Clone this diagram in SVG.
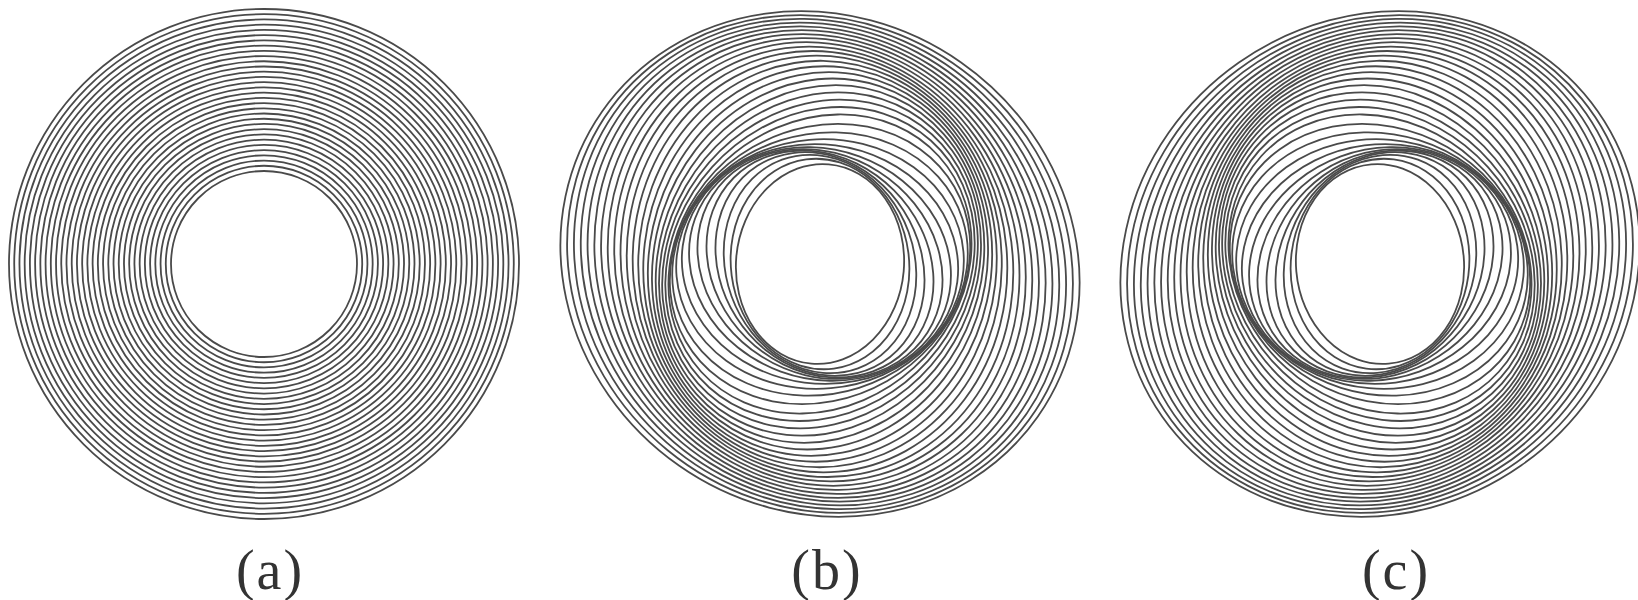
<svg xmlns="http://www.w3.org/2000/svg" xmlns:xlink="http://www.w3.org/1999/xlink" width="1638" height="600" viewBox="0 0 1638 600">
<style>
.ring{fill:none;stroke:#4a4a4a;stroke-width:1.8}
.lbl{font-family:"Liberation Serif","DejaVu Serif",serif;font-size:56px;fill:#333;text-anchor:middle;letter-spacing:2px}
</style>
<defs>
<g id="spiral">
<ellipse class="ring" rx="100" ry="84" transform="rotate(95)"/>
<ellipse class="ring" rx="105.49" ry="89.09" transform="rotate(82.5)"/>
<ellipse class="ring" rx="110.99" ry="94.17" transform="rotate(70)"/>
<ellipse class="ring" rx="116.48" ry="99.26" transform="rotate(57.5)"/>
<ellipse class="ring" rx="121.97" ry="104.35" transform="rotate(45)"/>
<ellipse class="ring" rx="127.47" ry="109.43" transform="rotate(32.5)"/>
<ellipse class="ring" rx="132.96" ry="114.52" transform="rotate(20)"/>
<ellipse class="ring" rx="138.45" ry="119.61" transform="rotate(7.5)"/>
<ellipse class="ring" rx="143.95" ry="124.69" transform="rotate(-5)"/>
<ellipse class="ring" rx="149.44" ry="129.78" transform="rotate(-17.5)"/>
<ellipse class="ring" rx="154.94" ry="134.86" transform="rotate(-29.9)"/>
<ellipse class="ring" rx="160.43" ry="139.95" transform="rotate(-42.2)"/>
<ellipse class="ring" rx="165.92" ry="145.04" transform="rotate(-48.1)"/>
<ellipse class="ring" rx="171.42" ry="150.12" transform="rotate(-53.9)"/>
<ellipse class="ring" rx="176.91" ry="155.21" transform="rotate(-59.8)"/>
<ellipse class="ring" rx="182.33" ry="160.37" transform="rotate(-65.7)"/>
<ellipse class="ring" rx="187.56" ry="165.72" transform="rotate(-71.5)"/>
<ellipse class="ring" rx="192.79" ry="171.07" transform="rotate(-77.4)"/>
<ellipse class="ring" rx="198.02" ry="176.42" transform="rotate(-83.3)"/>
<ellipse class="ring" rx="203.24" ry="181.78" transform="rotate(-89.1)"/>
<ellipse class="ring" rx="208.47" ry="187.13" transform="rotate(-95)"/>
<ellipse class="ring" rx="213.7" ry="192.48" transform="rotate(-100.9)"/>
<ellipse class="ring" rx="218.93" ry="197.83" transform="rotate(-105.8)"/>
<ellipse class="ring" rx="224.16" ry="203.18" transform="rotate(-110.1)"/>
<ellipse class="ring" rx="229.39" ry="208.53" transform="rotate(-114.5)"/>
<ellipse class="ring" rx="234.62" ry="213.88" transform="rotate(-118.9)"/>
<ellipse class="ring" rx="239.85" ry="219.23" transform="rotate(-123.2)"/>
<ellipse class="ring" rx="245.07" ry="224.59" transform="rotate(-127.6)"/>
<ellipse class="ring" rx="250.3" ry="229.94" transform="rotate(-131.9)"/>
<ellipse class="ring" rx="255.53" ry="235.29" transform="rotate(-136.3)"/>
<ellipse class="ring" rx="260.76" ry="240.64" transform="rotate(-140.7)"/>
<ellipse class="ring" rx="265.99" ry="245.99" transform="rotate(-145)"/>
</g>
</defs>
<rect width="1638" height="600" fill="#ffffff"/>
<g id="panel-a" transform="translate(264,264)">
<circle class="ring" r="93"/><circle class="ring" r="98.23"/><circle class="ring" r="103.45"/><circle class="ring" r="108.68"/>
<circle class="ring" r="113.9"/><circle class="ring" r="119.13"/><circle class="ring" r="124.36"/><circle class="ring" r="129.58"/>
<circle class="ring" r="134.81"/><circle class="ring" r="140.03"/><circle class="ring" r="145.26"/><circle class="ring" r="150.49"/>
<circle class="ring" r="155.71"/><circle class="ring" r="160.94"/><circle class="ring" r="166.16"/><circle class="ring" r="171.39"/>
<circle class="ring" r="176.62"/><circle class="ring" r="181.84"/><circle class="ring" r="187.07"/><circle class="ring" r="192.29"/>
<circle class="ring" r="197.52"/><circle class="ring" r="202.75"/><circle class="ring" r="207.97"/><circle class="ring" r="213.2"/>
<circle class="ring" r="218.42"/><circle class="ring" r="223.65"/><circle class="ring" r="228.88"/><circle class="ring" r="234.1"/>
<circle class="ring" r="239.33"/><circle class="ring" r="244.55"/><circle class="ring" r="249.78"/><circle class="ring" r="255"/>
</g>
<g id="panel-b">
<use href="#spiral" xlink:href="#spiral" transform="translate(820,264)"/>
</g>
<g id="panel-c">
<use href="#spiral" xlink:href="#spiral" transform="translate(1380,264) scale(-1,1)"/>
</g>
<g id="labels">
<text class="lbl" x="270" y="589">(a)</text>
<text class="lbl" x="827" y="589">(b)</text>
<text class="lbl" x="1396" y="589">(c)</text>
</g>
</svg>
